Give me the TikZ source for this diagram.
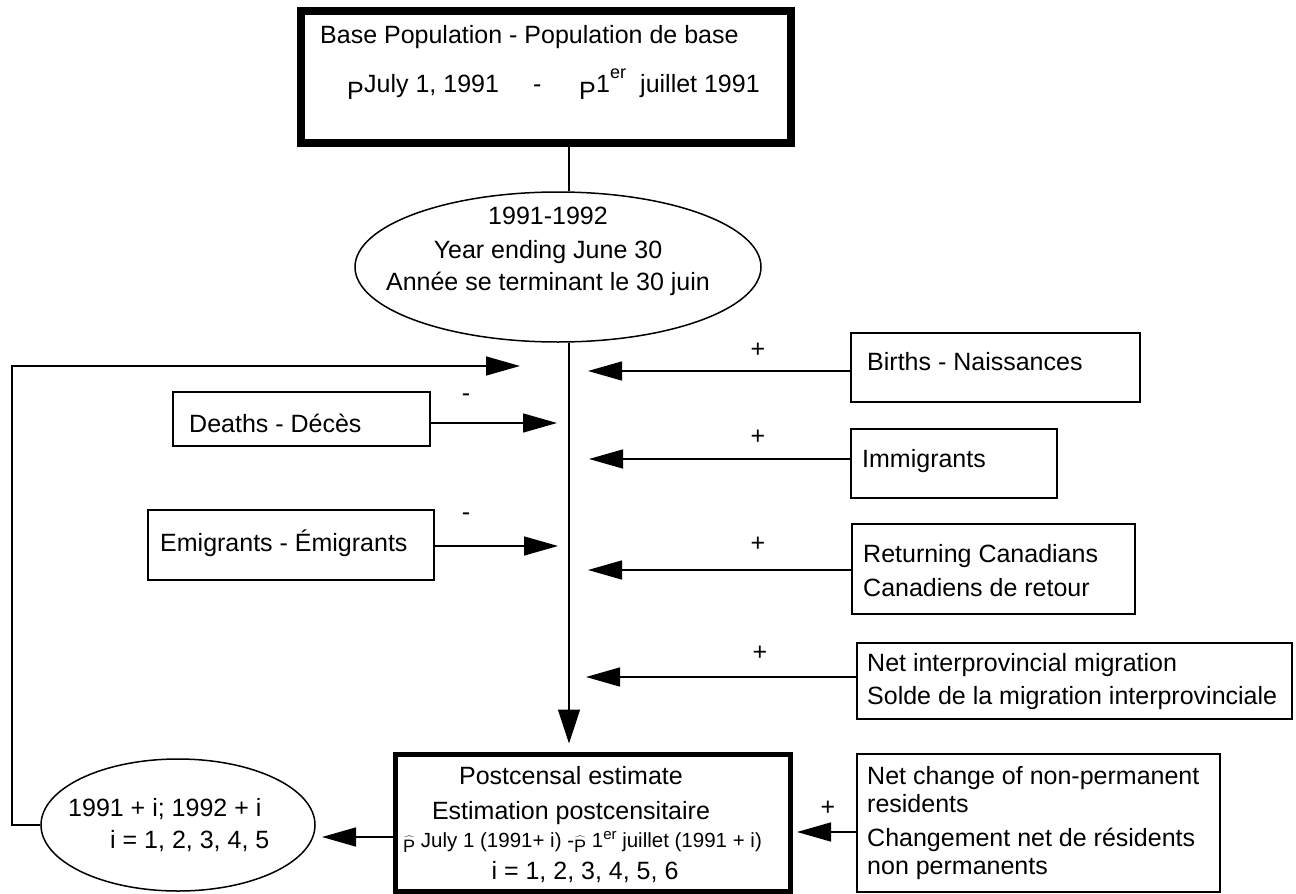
\documentclass[tikz,border=0pt]{standalone}
\usepackage{fontspec}
\setmainfont{Liberation Sans}
\usetikzlibrary{arrows.meta,shapes.geometric}
\newcommand{\hatP}{\raisebox{-5pt}{\fontsize{18}{18}\selectfont$\widehat{\mbox{P}}$}}
\begin{document}
\begin{tikzpicture}[x=1pt,y=-1pt,
  box/.style={draw, rectangle, line width=1.5pt, inner sep=0pt},
  ell/.style={draw, ellipse, line width=1.5pt, inner sep=0pt},
  txt/.style={inner sep=0pt, font=\fontsize{25}{30}\selectfont},
  smalltxt/.style={inner sep=0pt, font=\fontsize{20.5}{24}\selectfont},
  suptxt/.style={inner sep=0pt, font=\fontsize{18}{20}\selectfont},
  conn/.style={line width=1.5pt},
  arr/.style={line width=1.5pt, -{Triangle[length=34pt,width=19pt]}}]
\useasboundingbox (0,0) rectangle (1296,894);

% main boxes and ellipses
\node[box, line width=8pt, minimum width=490pt, minimum height=132pt] (base) at (546,77) {};
\node[ell, minimum width=406pt, minimum height=150pt] (yr) at (558,267) {};
\node[box, line width=5pt, minimum width=395pt, minimum height=137pt] (est) at (593,823) {};
\node[ell, minimum width=274pt, minimum height=132pt] (next) at (178,825) {};

% side boxes
\node[box, minimum width=289pt, minimum height=69pt] (births) at (995.5,367.5) {};
\node[box, minimum width=206pt, minimum height=69pt] (immig) at (954,463.5) {};
\node[box, minimum width=283pt, minimum height=90pt] (ret) at (993.5,569) {};
\node[box, minimum width=435pt, minimum height=76pt] (netin) at (1074.5,681) {};
\node[box, minimum width=363pt, minimum height=138pt] (netch) at (1038.5,823) {};
\node[box, minimum width=257pt, minimum height=54pt] (deaths) at (301.5,419) {};
\node[box, minimum width=286pt, minimum height=70pt] (emig) at (291,545) {};

% texts: base population
\node[txt, anchor=base west] (b1) at (320,43) {Base Population - Population de base};
\node[txt, anchor=base west] (b2) at (347,99) {P};
\node[txt, anchor=base west] (b3) at (364,92) {July 1, 1991};
\node[txt, anchor=base west] (b4) at (533,92) {-};
\node[txt, anchor=base west] (b5) at (579,99) {P};
\node[txt, anchor=base west] (b6) at (596,92) {1};
\node[suptxt, anchor=base west] (b7) at (610,78) {er};
\node[txt, anchor=base west] (b8) at (640,92) {juillet 1991};

% texts: year ellipse
\node[txt, anchor=base] (y1) at (548,224) {1991-1992};
\node[txt, anchor=base] (y2) at (548,258) {Year ending June 30};
\node[txt, anchor=base] (y3) at (548,290) {Année se terminant le 30 juin};

% texts: side boxes
\node[txt, anchor=base west] (tb) at (867,370) {Births - Naissances};
\node[txt, anchor=base west] (ti) at (862,467) {Immigrants};
\node[txt, anchor=base west] (tr1) at (863,562) {Returning Canadians};
\node[txt, anchor=base west] (tr2) at (863,596) {Canadiens de retour};
\node[txt, anchor=base west] (tn1) at (867,671) {Net interprovincial migration};
\node[txt, anchor=base west] (tn2) at (867,704) {Solde de la migration interprovinciale};
\node[txt, anchor=base west] (tc1) at (867,784) {Net change of non-permanent};
\node[txt, anchor=base west] (tc2) at (867,812) {residents};
\node[txt, anchor=base west] (tc3) at (867,846) {Changement net de résidents};
\node[txt, anchor=base west] (tc4) at (867,874) {non permanents};
\node[txt, anchor=base west] (td) at (189,432) {Deaths - Décès};
\node[txt, anchor=base west] (te) at (160,551) {Emigrants - Émigrants};

% texts: estimate box
\node[txt, anchor=base] (e1) at (571,784) {Postcensal estimate};
\node[txt, anchor=base] (e2) at (571,819) {Estimation postcensitaire};
\node[smalltxt, anchor=base west] (e3) at (403,847) {\hatP\ July 1 (1991+ i) -\hatP\ 1\raisebox{8pt}{\fontsize{15}{15}\selectfont er} juillet (1991 + i)};
\node[txt, anchor=base] (e4) at (585,879) {i = 1, 2, 3, 4, 5, 6};

% texts: next ellipse
\node[txt, anchor=base west] (n1) at (68,816) {1991 + i; 1992 + i};
\node[txt, anchor=base west] (n2) at (110,848) {i = 1, 2, 3, 4, 5};

% signs
\node[txt] (pb) at (758,350) {+};
\node[txt] (pi) at (758,437) {+};
\node[txt] (pr) at (758,544) {+};
\node[txt] (pn) at (760,653) {+};
\node[txt] (pc) at (828,808) {+};
\node[txt] (md) at (466,398) {-};
\node[txt] (me) at (466,517) {-};

% coordinates
\coordinate (mx) at (569,0);
\coordinate (fbx) at (12,0);
\coordinate (tFB) at (520,366);
\coordinate (tB) at (588,371);
\coordinate (tI) at (589,459);
\coordinate (tR) at (588,570);
\coordinate (tN) at (586,677);
\coordinate (tD) at (557,423);
\coordinate (tE) at (558,546);
\coordinate (tNX) at (322,837);
\coordinate (tNC) at (797,832);

% connectors
\draw[conn] (base.south -| mx) -- (yr.north -| mx);
\draw[conn, -{Triangle[length=34pt,width=22pt]}, shorten >=8.5pt] (yr.south -| mx) -- (est.north -| mx);
\draw[arr] (next.west) -- (next.west -| fbx) |- (tFB);
\draw[arr] (births.west |- tB) -- (tB);
\draw[arr] (immig.west |- tI) -- (tI);
\draw[arr] (ret.west |- tR) -- (tR);
\draw[arr] (netin.west |- tN) -- (tN);
\draw[arr] (deaths.east |- tD) -- (tD);
\draw[arr] (emig.east |- tE) -- (tE);
\draw[arr] (est.west |- tNX) -- (tNX);
\draw[arr] (netch.west |- tNC) -- (tNC);
\end{tikzpicture}
\end{document}
